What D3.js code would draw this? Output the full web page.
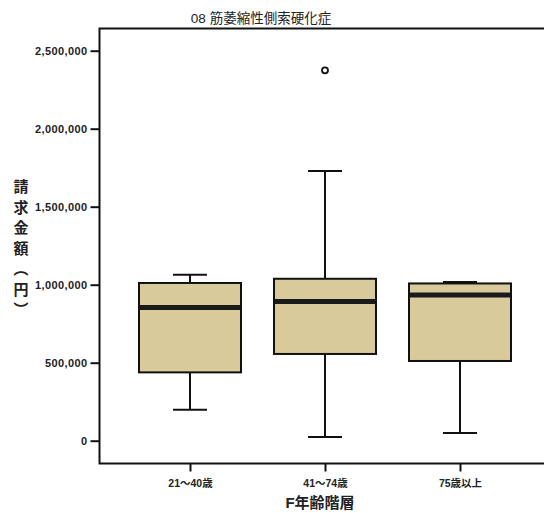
<!DOCTYPE html>
<html><head><meta charset="utf-8">
<script src="https://cdn.jsdelivr.net/npm/d3@7"></script>
<style>body{margin:0;background:#fff}svg{display:block}</style>
</head><body>
<script>
const title = "08 筋萎縮性側索硬化症";
const categories = ["21～40歳", "41～74歳", "75歳以上"];
const whiskerLow = [199000, 24000, 49000];
const q1 = [438000, 556000, 511000];
const median = [854000, 893000, 934000];
const q3 = [1011000, 1038000, 1008000];
const whiskerHigh = [1064000, 1729000, 1017000];
const outliers = [[], [2374000], []];
const yTicks = [0, 500000, 1000000, 1500000, 2000000, 2500000];
const xTitle = "F年齢階層";
const yTitle = "請求金額（円）";

const W = 544, H = 513;
const svg = d3.select("body").append("svg").attr("width", W).attr("height", H);
const font = "'Liberation Sans', Arial, 'Noto Sans CJK JP', sans-serif";
const frameL = 99.5, frameT = 28.5, frameB = 463.5, frameR = 546;

const y = d3.scaleLinear().domain([0, 2500000]).range([440.7, 50.7]);
const x = d3.scalePoint().domain(categories).range([190, 460]);
const boxW = 102, capW = 34;

// frame
svg.append("path").attr("d", `M${frameR},${frameT}H${frameL}V${frameB}H${frameR}`)
  .attr("fill", "none").attr("stroke", "#111").attr("stroke-width", 2);

// y axis
const fmt = d3.format(",");
const gy = svg.append("g").attr("transform", `translate(${frameL},0)`)
  .call(d3.axisLeft(y).tickValues(yTicks).tickFormat(fmt).tickSize(9).tickPadding(3));
gy.select(".domain").remove();
gy.selectAll(".tick line").attr("stroke", "#111").attr("stroke-width", 2);
gy.selectAll(".tick text").attr("fill", "#222").style("font-family", font)
  .style("font-size", "11px").style("font-weight", "bold").style("letter-spacing", "0.4px");

// x axis
const gx = svg.append("g").attr("transform", `translate(0,${frameB})`)
  .call(d3.axisBottom(x).tickSize(8).tickPadding(8));
gx.select(".domain").remove();
gx.selectAll(".tick line").attr("stroke", "#111").attr("stroke-width", 2);
gx.selectAll(".tick text").attr("fill", "#222").style("font-family", font)
  .style("font-size", "10.5px").style("font-weight", "bold");

// boxes
const data = categories.map((c, i) => ({c, lo: whiskerLow[i], q1: q1[i], med: median[i], q3: q3[i], hi: whiskerHigh[i], out: outliers[i]}));
const g = svg.append("g").selectAll("g").data(data).join("g");
g.append("line").attr("x1", d => x(d.c)).attr("x2", d => x(d.c))
  .attr("y1", d => y(d.hi)).attr("y2", d => y(d.lo)).attr("stroke", "#111").attr("stroke-width", 2);
g.append("line").attr("x1", d => x(d.c) - capW/2).attr("x2", d => x(d.c) + capW/2)
  .attr("y1", d => y(d.hi)).attr("y2", d => y(d.hi)).attr("stroke", "#111").attr("stroke-width", 2);
g.append("line").attr("x1", d => x(d.c) - capW/2).attr("x2", d => x(d.c) + capW/2)
  .attr("y1", d => y(d.lo)).attr("y2", d => y(d.lo)).attr("stroke", "#111").attr("stroke-width", 2);
g.append("rect").attr("x", d => x(d.c) - boxW/2).attr("width", boxW)
  .attr("y", d => y(d.q3)).attr("height", d => y(d.q1) - y(d.q3))
  .attr("fill", "#d9ca9c").attr("stroke", "#111").attr("stroke-width", 2);
g.append("line").attr("x1", d => x(d.c) - boxW/2 + 1).attr("x2", d => x(d.c) + boxW/2 - 1)
  .attr("y1", d => y(d.med)).attr("y2", d => y(d.med)).attr("stroke", "#1a1a1a").attr("stroke-width", 5);
g.selectAll("circle").data(d => d.out.map(v => ({c: d.c, v}))).join("circle")
  .attr("cx", d => x(d.c)).attr("cy", d => y(d.v)).attr("r", 3)
  .attr("fill", "none").attr("stroke", "#111").attr("stroke-width", 1.8);

// titles
svg.append("text").attr("x", 261).attr("y", 23).attr("text-anchor", "middle")
  .style("font-family", font).style("font-size", "13.5px").attr("fill", "#222").text(title);
svg.append("text").attr("x", 320).attr("y", 508).attr("text-anchor", "middle")
  .style("font-family", font).style("font-size", "15px").style("font-weight", "bold").attr("fill", "#222").text(xTitle);
svg.append("text").attr("x", 20).attr("y", 179)
  .style("writing-mode", "vertical-rl").style("font-family", font)
  .style("font-size", "15px").style("font-weight", "bold").style("letter-spacing", "5.5px")
  .attr("fill", "#222").text(yTitle);
</script>
</body></html>
